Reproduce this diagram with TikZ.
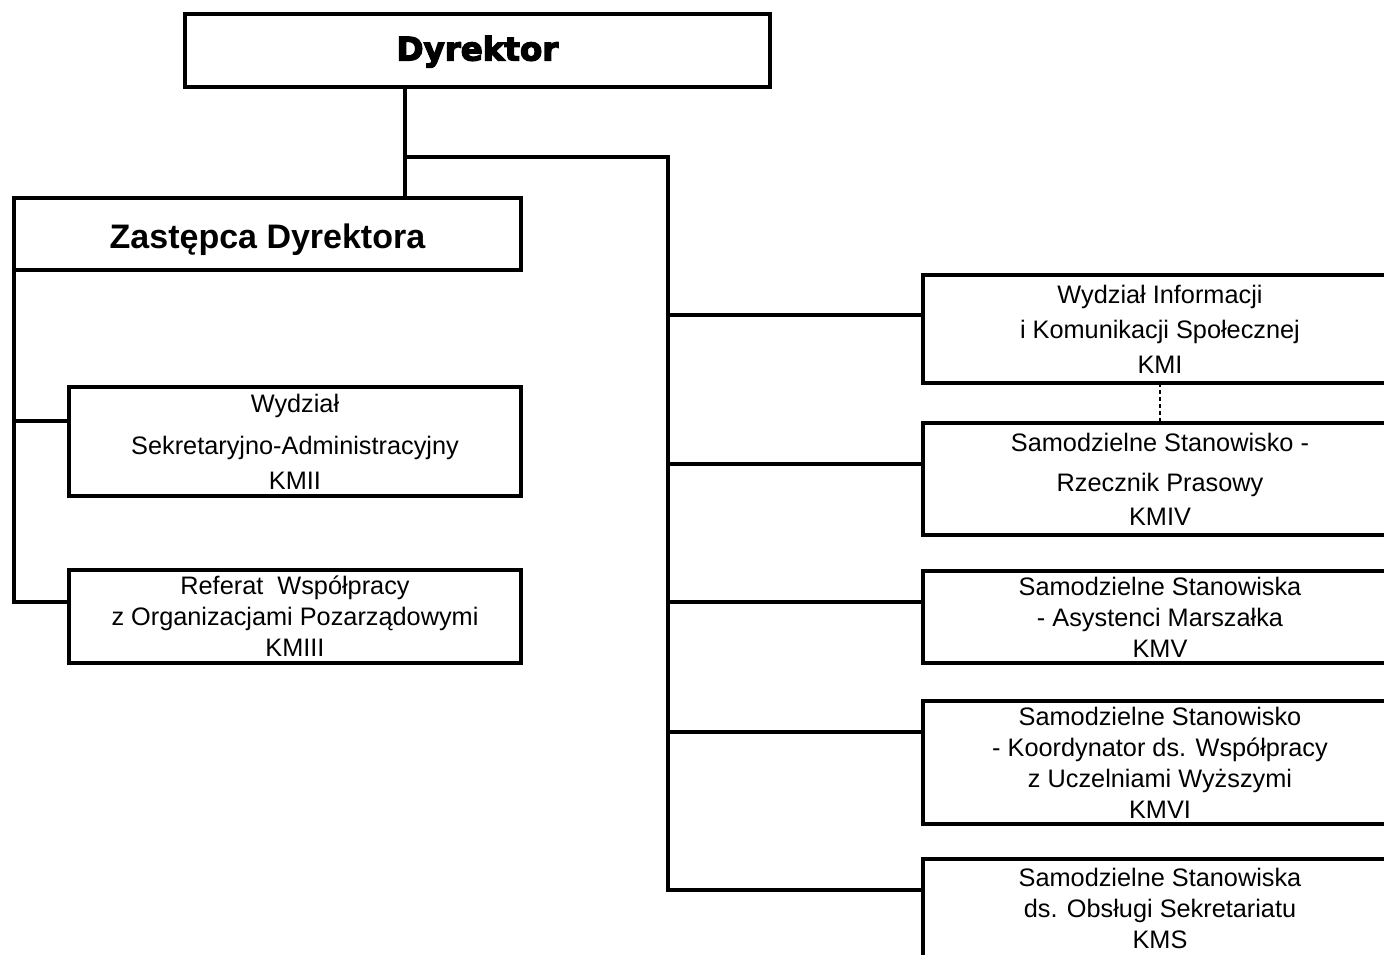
\documentclass[tikz,border=0pt]{standalone}
\usepackage{fontspec}
\setmainfont{Liberation Sans}
\newfontfamily\heavyfont{DejaVu Sans Bold}[FakeBold=4]
\usepackage{tikz}
\usetikzlibrary{calc,positioning}
\tikzstyle{unit} = [draw=black, line width=4.5pt, fill=white, rectangle, align=center, inner sep=0pt, outer sep=0pt, font=\fontsize{25.3}{31}\selectfont]
\tikzstyle{side} = [unit, anchor=north west, minimum width=474pt]
\tikzstyle{link} = [line width=4pt]

\begin{document}
\begin{tikzpicture}[x=1pt,y=-1pt]
    \useasboundingbox (0,0) rectangle (1384,954);
    \clip (0,0) rectangle (1384,954);

    \node[unit, anchor=north west, minimum width=585pt, minimum height=73pt, text height=26pt, text depth=6pt, font=\fontsize{32.5}{38}\selectfont\heavyfont] (dyr) at (185,14) {Dyrektor};
    \node[unit, anchor=north west, minimum width=507pt, minimum height=72pt, text height=31pt, text depth=3pt, font=\fontsize{34}{40}\selectfont\bfseries] (zast) at (14,198) {Zastępca Dyrektora};

    \node[unit, anchor=north west, minimum width=452pt, minimum height=109pt] (kmii) at (69,387) {Wydział\\[11pt] Sekretaryjno-Administracyjny\\[4pt] KMII};
    \node[unit, anchor=north west, minimum width=452pt, minimum height=93pt] (kmiii) at (69,570) {Referat\ \ Współpracy\\ z Organizacjami Pozarządowymi\\ KMIII};

    \node[side, minimum height=108pt] (kmi) at (923,275) {Wydział Informacji\\[4pt] i Komunikacji Społecznej\\[4pt] KMI};
    \node[side, minimum height=112pt] (kmiv) at (923,423) {Samodzielne Stanowisko -\\[9pt] Rzecznik Prasowy\\[3pt] KMIV};
    \node[side, minimum height=92pt] (kmv) at (923,571) {Samodzielne Stanowiska\\ - Asystenci Marszałka\\ KMV};
    \node[side, minimum height=123pt] (kmvi) at (923,701) {Samodzielne Stanowisko\\ - Koordynator ds. Współpracy\\ z Uczelniami Wyższymi\\ KMVI};
    \node[side, minimum height=98pt] (kms) at (923,859) {Samodzielne Stanowiska\\ ds. Obsługi Sekretariatu\\ KMS};

    \coordinate (fork) at (405,157);
    \coordinate (rbus) at (668,157);
    \coordinate (kmii-in) at ([yshift=-34pt]kmii.north west);
    \coordinate (kmiii-in) at ([yshift=-32pt]kmiii.north west);
    \coordinate (kmi-in) at ([yshift=-40pt]kmi.north west);
    \coordinate (kmiv-in) at ([yshift=-41pt]kmiv.north west);
    \coordinate (kmv-in) at ([yshift=-31pt]kmv.north west);
    \coordinate (kmvi-in) at ([yshift=-31pt]kmvi.north west);
    \coordinate (kms-in) at ([yshift=-31pt]kms.north west);

    \draw[link] (fork |- dyr.south) -- (fork |- zast.north);
    \draw[link] (fork) -- (rbus) |- (kms-in);
    \foreach \n in {kmi,kmiv,kmv,kmvi}
        \draw[link] (\n-in -| rbus) -- (\n-in);

    \draw[link] (zast.south west) |- (kmiii-in);
    \draw[link] (kmii-in -| zast.south west) -- (kmii-in);

    \draw[line width=1.2pt, dash pattern=on 4pt off 3pt] (kmi.south) -- (kmiv.north);

\end{tikzpicture}
\end{document}
